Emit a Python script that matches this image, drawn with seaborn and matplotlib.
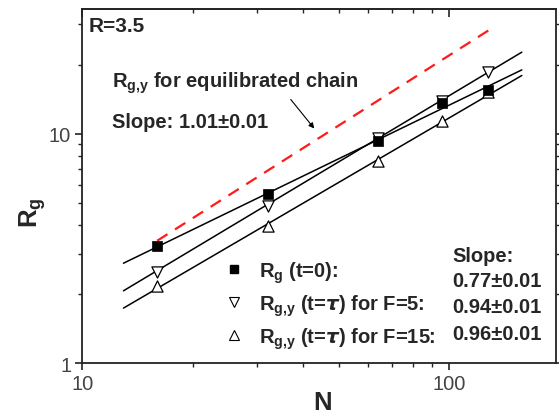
import numpy as np
import pandas as pd
import seaborn as sns
import matplotlib.pyplot as plt
from matplotlib.lines import Line2D
from matplotlib import ticker

# data (R = 3.5)
chain_n = [16, 32, 64, 96, 128]
rg_t0 = [3.23, 5.48, 9.35, 13.6, 15.6]
rgy_f5 = [2.49, 4.87, 9.58, 13.97, 18.6]
rgy_f15 = [2.17, 3.96, 7.65, 11.43, 15.2]

# power-law fit lines (end points)
fit_n = [12.95, 158]
fit_t0 = [2.73, 19.0]
fit_f5 = [2.07, 22.7]
fit_f15 = [1.74, 17.96]

# equilibrated chain reference line
eq_n = [16, 128]
eq_rgy = [3.42, 28.2]

series_labels = [r"R$_\mathrm{g}$ (t=0):",
                 r"R$_\mathrm{g{,}y}$ (t=$\mathit{\tau}$) for F=5:",
                 r"R$_\mathrm{g{,}y}$ (t=$\mathit{\tau}$) for F=15:"]
slope_labels = ["Slope:", "0.77\u00b10.01", "0.94\u00b10.01", "0.96\u00b10.01"]
x_ticks = [10, 100]
x_ticklabels = ["10", "100"]
y_ticks = [1, 10]
y_ticklabels = ["1", "10"]

sns.set_style("ticks")
plt.rcParams["font.family"] = ["Liberation Sans", "DejaVu Sans"]
plt.rcParams["mathtext.fontset"] = "custom"
plt.rcParams["mathtext.rm"] = "Liberation Sans:bold"
plt.rcParams["mathtext.bf"] = "Liberation Sans:bold"
plt.rcParams["mathtext.it"] = "DejaVu Sans:italic:bold"

W, H = 559, 414
fig = plt.figure(figsize=(W / 100, H / 100), dpi=100)
ax = fig.add_axes([82.3 / W, (H - 364.3) / H, (556 - 82.3) / W, (364.3 - 10) / H])


def fx(px):
    return px / W


def fy(py):
    return 1 - py / H


ax.set_xscale("log")
ax.set_yscale("log")

# fit lines
for ys in [fit_t0, fit_f5, fit_f15]:
    sns.lineplot(x=fit_n, y=ys, ax=ax, color="black", lw=1.1, sort=False,
                 estimator=None, zorder=2)

# equilibrated chain
sns.lineplot(x=eq_n, y=eq_rgy, ax=ax, color="#ff1a1a", lw=1.6,
             linestyle=(0, (5.5, 4)), sort=False, estimator=None, zorder=2)

# data points
sns.scatterplot(x=chain_n, y=rgy_f15, ax=ax, marker="^", s=65, color="white",
                edgecolor="black", linewidth=0.9, zorder=3)
sns.scatterplot(x=chain_n, y=rgy_f5, ax=ax, marker="v", s=65, color="white",
                edgecolor="black", linewidth=0.9, zorder=3)
sns.scatterplot(x=chain_n, y=rg_t0, ax=ax, marker="s", s=42, color="black",
                edgecolor="black", linewidth=0.5, zorder=4)

ax.set_xlim(10, 195.8)
ax.set_ylim(1, 35)

ax.set_xticks(x_ticks)
ax.set_xticklabels(x_ticklabels)
ax.set_yticks(y_ticks)
ax.set_yticklabels(y_ticklabels)
ax.xaxis.set_minor_formatter(ticker.NullFormatter())
ax.yaxis.set_minor_formatter(ticker.NullFormatter())

ax.tick_params(axis="both", which="major", direction="out", length=5, width=1.2,
               labelsize=14.5, labelcolor="#444444", color="#222222", pad=3)
ax.tick_params(axis="both", which="minor", direction="out", length=3, width=1.0,
               color="#222222")
ax.tick_params(axis="y", which="both", right=True)
for sp in ax.spines.values():
    sp.set_visible(True)
    sp.set_linewidth(1.3)
    sp.set_color("#222222")

top = ax.secondary_xaxis("top")
top.set_xticks(x_ticks)
top.xaxis.set_minor_formatter(ticker.NullFormatter())
top.tick_params(which="major", direction="in", length=6, width=1.2, labeltop=False)
top.tick_params(which="minor", direction="in", length=3, width=1.0)
top.spines["top"].set_linewidth(1.3)
top.spines["top"].set_color("#444444")

ax.set_xlabel("")
ax.set_ylabel("")
fig.text(fx(322.7), fy(410), "N", ha="center", va="baseline",
         fontsize=18.5, fontweight="bold")
fig.text(fx(37), fy(228), r"R$_\mathrm{g}$", rotation=90, rotation_mode="anchor",
         ha="left", va="baseline", fontsize=18.5, fontweight="bold")

# annotations
fig.text(fx(89), fy(32), "R=3.5", fontsize=15, fontweight="bold", va="baseline")
fig.text(fx(111.7), fy(87.7), r"R$_\mathrm{g{,}y}$ for equilibrated chain",
         fontsize=14.5, fontweight="bold", va="baseline")
fig.text(fx(111.7), fy(128.3), "Slope: 1.01\u00b10.01",
         fontsize=14.5, fontweight="bold", va="baseline")
ax.annotate("", xy=(fx(316), fy(131.7)), xytext=(fx(289), fy(98.3)),
            xycoords="figure fraction", textcoords="figure fraction",
            arrowprops=dict(arrowstyle="-|>", color="black", lw=0.8,
                            mutation_scale=8))

# legend
handles = [
    Line2D([], [], ls="none", marker="s", ms=5.5, mfc="black", mec="black"),
    Line2D([], [], ls="none", marker="v", ms=6.5, mfc="white", mec="black", mew=0.8),
    Line2D([], [], ls="none", marker="^", ms=6.5, mfc="white", mec="black", mew=0.8),
]
leg = ax.legend(handles, series_labels, loc="upper left",
                bbox_to_anchor=(fx(223.6), fy(260)), bbox_transform=fig.transFigure,
                frameon=False, prop=dict(size=14.5, weight="bold"),
                handlelength=1.0, handletextpad=0.75, labelspacing=0.38,
                borderpad=0, borderaxespad=0)

for lab, yb in zip(slope_labels, [261.7, 287.3, 313.3, 340]):
    fig.text(fx(452.3), fy(yb), lab, fontsize=14.5, fontweight="bold", va="baseline")

fig.savefig("out.png", dpi=100)
